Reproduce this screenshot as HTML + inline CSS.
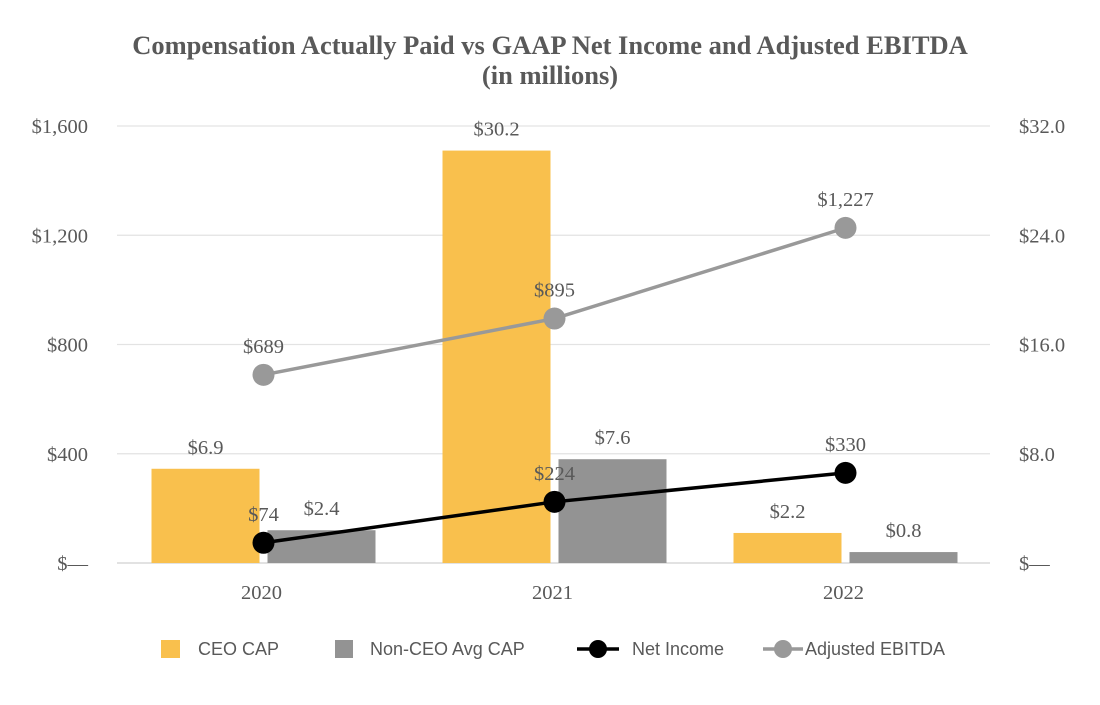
<!DOCTYPE html>
<html><head><meta charset="utf-8"><style>
body{margin:0;background:#fff;width:1100px;height:700px;overflow:hidden}
svg text{font-family:"Liberation Serif",serif;fill:#595959}
.leg{font-family:"Liberation Sans",sans-serif;font-size:18px}
</style></head><body>
<svg id="chart" width="1100" height="700" viewBox="0 0 1100 700">
<text x="550" y="54" text-anchor="middle" font-size="26.5" font-weight="bold">Compensation Actually Paid vs GAAP Net Income and Adjusted EBITDA</text>
<text x="550" y="84" text-anchor="middle" font-size="26.5" font-weight="bold">(in millions)</text>
<g id="grid"></g><g id="bars"></g><g id="lines"></g><g id="labels"></g>
<g>
<rect x="161" y="640" width="19" height="18" fill="#F9C04D"/>
<text class="leg" x="198" y="655">CEO CAP</text>
<rect x="335" y="640" width="18" height="18" fill="#939393"/>
<text class="leg" x="370" y="655">Non-CEO Avg CAP</text>
<line x1="577" y1="649" x2="619" y2="649" stroke="#000" stroke-width="3.5"/>
<circle cx="598" cy="649" r="9" fill="#000"/>
<text class="leg" x="632" y="655">Net Income</text>
<line x1="763" y1="649" x2="803" y2="649" stroke="#999" stroke-width="3.5"/>
<circle cx="783" cy="649" r="9" fill="#999"/>
<text class="leg" x="805" y="655">Adjusted EBITDA</text>
</g>
</svg>
<script>
const categories=["2020","2021","2022"];
const ceoCap=[6.9,30.2,2.2];
const nonCeoCap=[2.4,7.6,0.8];
const netIncome=[74,224,330];
const ebitda=[689,895,1227];
const leftTicks=[0,400,800,1200,1600];
const leftTickLabels=["$—","$400","$800","$1,200","$1,600"];
const rightTicks=[0,8,16,24,32];
const rightTickLabels=["$—","$8.0","$16.0","$24.0","$32.0"];
const ceoLabels=["$6.9","$30.2","$2.2"];
const nonCeoLabels=["$2.4","$7.6","$0.8"];
const niLabels=["$74","$224","$330"];
const ebLabels=["$689","$895","$1,227"];

const NS="http://www.w3.org/2000/svg";
const X0=117,X1=990,Y0=563,Y1=126,FS=20.5;
const band=(X1-X0)/categories.length;
const xc=i=>X0+band*(i+0.5)+1;
const yL=v=>Y0-(v/1600)*(Y0-Y1);
const yR=v=>Y0-(v/32)*(Y0-Y1);
function mk(p,tag,a){const e=document.createElementNS(NS,tag);for(const k in a)e.setAttribute(k,a[k]);document.getElementById(p).appendChild(e);return e;}
leftTicks.forEach((t,i)=>{
 const l=mk('grid','line',{x1:X0,x2:X1,y1:yL(t),y2:yL(t),stroke:i==0?'#d0d0d0':'#e3e3e3','stroke-width':1.3});
 
 
 const tx=mk('grid','text',{x:88,y:yL(t)+7,'text-anchor':'end','font-size':FS});tx.textContent=leftTickLabels[i];
 
 
});
rightTicks.forEach((t,i)=>{
 const tx=mk('grid','text',{x:1019,y:yR(t)+7,'font-size':FS});tx.textContent=rightTickLabels[i];
 
 
});
const bw=108,gap=8;
categories.forEach((c,i)=>{
 const tx=mk('labels','text',{x:xc(i)-2,y:599,'text-anchor':'middle','font-size':FS});tx.textContent=c;
 
 
 const cx=xc(i);
 const b1=mk('bars','rect',{x:cx-gap/2-bw,y:yR(ceoCap[i]),width:bw,height:Y0-yR(ceoCap[i]),fill:'#F9C04D'});
 
 
 const b2=mk('bars','rect',{x:cx+gap/2,y:yR(nonCeoCap[i]),width:bw,height:Y0-yR(nonCeoCap[i]),fill:'#939393'});
 
 
 const l1=mk('labels','text',{x:cx-gap/2-bw/2,y:yR(ceoCap[i])-15,'text-anchor':'middle','font-size':FS});l1.textContent=ceoLabels[i];
 
 
 const l2=mk('labels','text',{x:cx+gap/2+bw/2,y:yR(nonCeoCap[i])-15,'text-anchor':'middle','font-size':FS});l2.textContent=nonCeoLabels[i];
 
 
});
[[ebitda,'#999',ebLabels,'ebitda'],[netIncome,'#000',niLabels,'net-income']].forEach(([d,col,labs,nm])=>{
 const pl=mk('lines','polyline',{points:d.map((v,i)=>xc(i)+','+yL(v)).join(' '),fill:'none',stroke:col,'stroke-width':3.5});
 
 
 d.forEach((v,i)=>{
  const c=mk('lines','circle',{cx:xc(i),cy:yL(v),r:11,fill:col});
  
  
  const t=mk('labels','text',{x:xc(i),y:yL(v)-22,'text-anchor':'middle','font-size':FS});t.textContent=labs[i];
  
  
 });
});
</script>
</body></html>
